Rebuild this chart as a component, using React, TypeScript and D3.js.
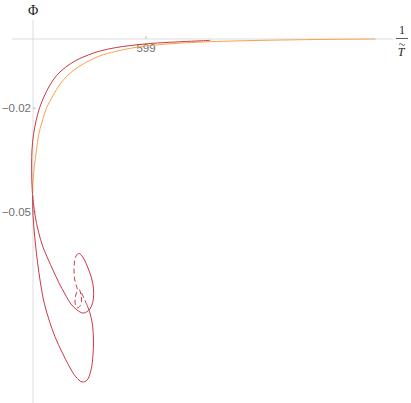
import * as React from "react";
import * as d3 from "d3";

// parametric curves: [1/T, Phi]
const orangeCurve: [number, number][] = [
  [599.203, 0.0], [599.163, -0.0001], [599.119, -0.0003], [599.074, -0.0006],
  [599.03, -0.0012], [599.004, -0.0019], [598.986, -0.0027], [598.973, -0.0036],
  [598.959, -0.0049], [598.949, -0.0064], [598.94, -0.0081], [598.931, -0.0104],
  [598.924, -0.013], [598.918, -0.0162], [598.912, -0.0199], [598.908, -0.024],
  [598.905, -0.0277], [598.9031, -0.0321], [598.9013, -0.0364], [598.9, -0.0408],
  [598.8996, -0.0445],
];

const redTop: [number, number][] = [
  [599.057, -0.0004], [599.03, -0.0008], [599.004, -0.0013], [598.986, -0.0019],
  [598.973, -0.0025], [598.959, -0.0035], [598.949, -0.0046], [598.938, -0.0062],
  [598.929, -0.0081], [598.921, -0.0105], [598.915, -0.0133], [598.91, -0.0165],
  [598.9058, -0.0199], [598.9027, -0.0237], [598.9004, -0.0277], [598.8991, -0.0321],
  [598.8988, -0.0364], [598.8989, -0.0408], [598.8996, -0.0451],
];

// lower branch, big loop
const redOuter: [number, number][] = [
  [598.8996, -0.0451], [598.9, -0.0509], [598.9018, -0.0581], [598.904, -0.0645],
  [598.9066, -0.0705], [598.9097, -0.076], [598.9142, -0.0812], [598.9195, -0.0861],
  [598.9257, -0.0905], [598.9319, -0.0945], [598.9381, -0.0977], [598.9434, -0.0991],
  [598.9478, -0.0986], [598.9513, -0.0957], [598.9531, -0.0913], [598.9535, -0.087],
  [598.9527, -0.0827], [598.9504, -0.0792], [598.9478, -0.0769],
];
const redOuterDash: [number, number][] = [
  [598.9478, -0.0769], [598.9451, -0.0749], [598.9429, -0.0734],
];

// inner branch, smaller loop
const redInner: [number, number][] = [
  [598.8996, -0.0451], [598.9018, -0.0509], [598.9049, -0.0558], [598.9088, -0.0601],
  [598.9133, -0.0636], [598.9177, -0.0668], [598.923, -0.0705], [598.9283, -0.0737],
  [598.9336, -0.0766], [598.9389, -0.0783], [598.9442, -0.0792], [598.9487, -0.0786],
  [598.9518, -0.0772], [598.9535, -0.0749], [598.9535, -0.072], [598.9518, -0.0691],
  [598.9487, -0.0662], [598.9451, -0.0636], [598.9416, -0.0621], [598.9398, -0.062],
];
const redInnerDash: [number, number][] = [
  [598.9398, -0.062], [598.9381, -0.0627], [598.9367, -0.0645], [598.9363, -0.0668],
  [598.9367, -0.0691], [598.9381, -0.0711], [598.9394, -0.0725], [598.9381, -0.0737],
  [598.9372, -0.0754], [598.9376, -0.0769], [598.9394, -0.0777], [598.9416, -0.0772],
  [598.9429, -0.0757], [598.9425, -0.074], [598.9412, -0.0725], [598.9398, -0.072],
];

const xTicks = [599];
const yTicks = [-0.02, -0.05];

const RED = "#c83a44";
const ORANGE = "#f7a34c";
const AXIS = "#dcdcdc";

export default function App() {
  const width = 411;
  const height = 403;

  const x = d3.scaleLinear().domain([598.9, 599.0]).range([33, 146]);
  const y = d3.scaleLinear().domain([0, -0.1]).range([39, 385]);

  const line = d3
    .line<[number, number]>()
    .x((d) => x(d[0]))
    .y((d) => y(d[1]))
    .curve(d3.curveCatmullRom.alpha(0.5));

  const x0 = x(598.9);
  const y0 = y(0);

  return (
    <svg
      width={width}
      height={height}
      style={{ position: "absolute", left: 0, top: 0 }}
    >
      <rect width={width} height={height} fill="#fff" />
      {/* axes */}
      <line x1={12} x2={393} y1={y0} y2={y0} stroke={AXIS} strokeWidth={1} />
      <line x1={x0} x2={x0} y1={20} y2={height} stroke={AXIS} strokeWidth={1} />
      {xTicks.map((t) => (
        <g key={t}>
          <line x1={x(t)} x2={x(t)} y1={y0} y2={y0 - 3} stroke="#bbb" />
          <text
            x={x(t)}
            y={y0 + 13}
            textAnchor="middle"
            fontFamily="Liberation Sans, Arial, sans-serif"
            fontSize={11.5}
            fill="#707070"
          >
            {t}
          </text>
        </g>
      ))}
      {yTicks.map((t) => (
        <g key={t}>
          <line x1={x0} x2={x0 + 3} y1={y(t)} y2={y(t)} stroke="#bbb" />
          <text
            x={x0 - 2}
            y={y(t) + 4}
            textAnchor="end"
            fontFamily="Liberation Sans, Arial, sans-serif"
            fontSize={11.5}
            fill="#707070"
          >
            {"\u2212" + Math.abs(t).toFixed(2)}
          </text>
        </g>
      ))}
      {/* axis labels */}
      <text
        x={x0}
        y={15}
        textAnchor="middle"
        fontFamily="Liberation Serif, serif"
        fontSize={14}
        fill="#222"
      >
        Φ
      </text>
      <g fontFamily="Liberation Serif, serif" fill="#222">
        <text x={402} y={34} textAnchor="middle" fontSize={12}>
          1
        </text>
        <line x1={396} x2={408} y1={38.5} y2={38.5} stroke="#333" strokeWidth={0.8} />
        <path
          d="M399,44.5 q1.5,-2 3,0 t3,0"
          fill="none"
          stroke="#333"
          strokeWidth={0.8}
        />
        <text x={401} y={56} textAnchor="middle" fontSize={12} fontStyle="italic">
          T
        </text>
      </g>
      {/* curves */}
      <g fill="none" strokeWidth={1}>
        <path d={line(orangeCurve) ?? ""} stroke={ORANGE} />
        <path d={line(redTop) ?? ""} stroke={RED} />
        <path d={line(redOuter) ?? ""} stroke={RED} />
        <path d={line(redInner) ?? ""} stroke={RED} />
        <path d={line(redOuterDash) ?? ""} stroke={RED} strokeDasharray="5,3" />
        <path d={line(redInnerDash) ?? ""} stroke={RED} strokeDasharray="5,3" />
      </g>
    </svg>
  );
}
